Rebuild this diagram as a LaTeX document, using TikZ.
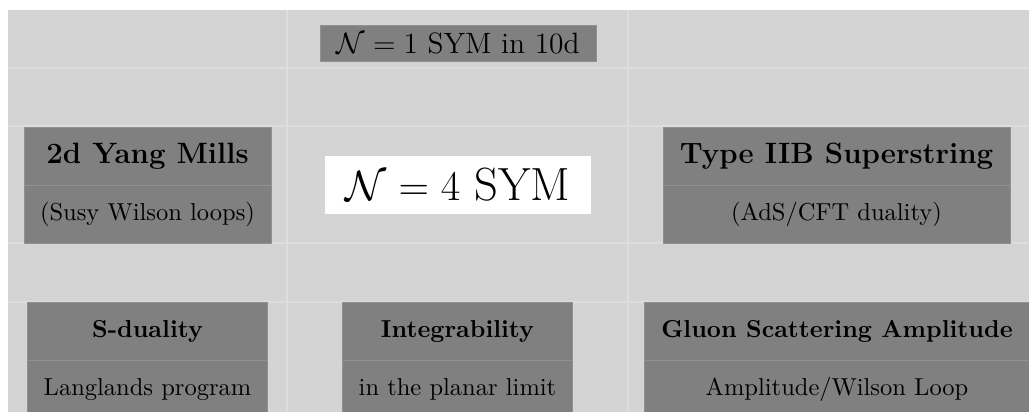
\documentclass[tikz,border=0pt]{standalone}
\usepackage{amsmath,amssymb}
\usepackage{xcolor}
\usepackage{tikz}
\usetikzlibrary{positioning}

\definecolor{cellbg}{RGB}{212,212,212}
\definecolor{cellline}{RGB}{221,221,221}
\definecolor{boxgray}{RGB}{128,128,128}
\definecolor{boxline}{RGB}{145,145,145}

\begin{document}
\begin{tikzpicture}[
    x=0.408pt, y=0.408pt,
    node distance=0pt,
    seam/.style={draw=cellline, line width=0.5pt},
    tagbox/.style={rectangle, fill=boxgray, draw=boxline, line width=0.3pt, outer sep=0pt, inner sep=0pt, minimum width=112.6pt, minimum height=14.7pt, font=\large},
    titlebox/.style={rectangle, fill=boxgray, draw=boxline, line width=0.3pt, outer sep=0pt, inner sep=0pt, minimum height=23.7pt, font=\large\bfseries},
    smalltitle/.style={titlebox, font=\normalsize\bfseries},
    notebox/.style={titlebox, font=\normalsize},
    mainbox/.style={rectangle, fill=white, outer sep=0pt, inner sep=0pt, minimum width=108.5pt, minimum height=23.7pt, font=\fontsize{19}{22}\selectfont}
]
\useasboundingbox (0,0) rectangle (1029,412);
\clip (0,0) rectangle (1029,412);

% table background
\fill[cellbg] (8,-6) rectangle (1046,402);
\foreach \y in {344,286,169,110} \draw[seam] (8,\y) -- (1046,\y);
\foreach \x in {287,628} \draw[seam] (\x,-6) -- (\x,402);

% top
\node[tagbox] (sym10) at (458,369) {$\mathcal{N}=1$ SYM in 10d};

% middle row
\node[titlebox, minimum width=100.8pt] (ym) at (147.5,255.7) {2d Yang Mills};
\node[notebox, minimum width=100.8pt, below=of ym] (ymnote) {(Susy Wilson loops)};
\node[mainbox] (sym4) at (458,227) {$\mathcal{N}=4$ SYM};
\node[titlebox, minimum width=141.6pt] (iib) at (836.5,255.7) {Type IIB Superstring};
\node[notebox, minimum width=141.6pt, below=of iib] (iibnote) {(AdS/CFT duality)};

% bottom row
\node[smalltitle, minimum width=98.1pt] (sdual) at (147.5,81) {S-duality};
\node[notebox, minimum width=98.1pt, below=of sdual] (sdualnote) {Langlands program};
\node[smalltitle, minimum width=93.7pt] (integ) at (457.5,81) {Integrability};
\node[notebox, minimum width=93.7pt, below=of integ] (integnote) {in the planar limit};
\node[smalltitle, minimum width=157.5pt] (gluon) at (837,81) {Gluon Scattering Amplitude};
\node[notebox, minimum width=157.5pt, below=of gluon] (gluonnote) {Amplitude/Wilson Loop};

\end{tikzpicture}
\end{document}
